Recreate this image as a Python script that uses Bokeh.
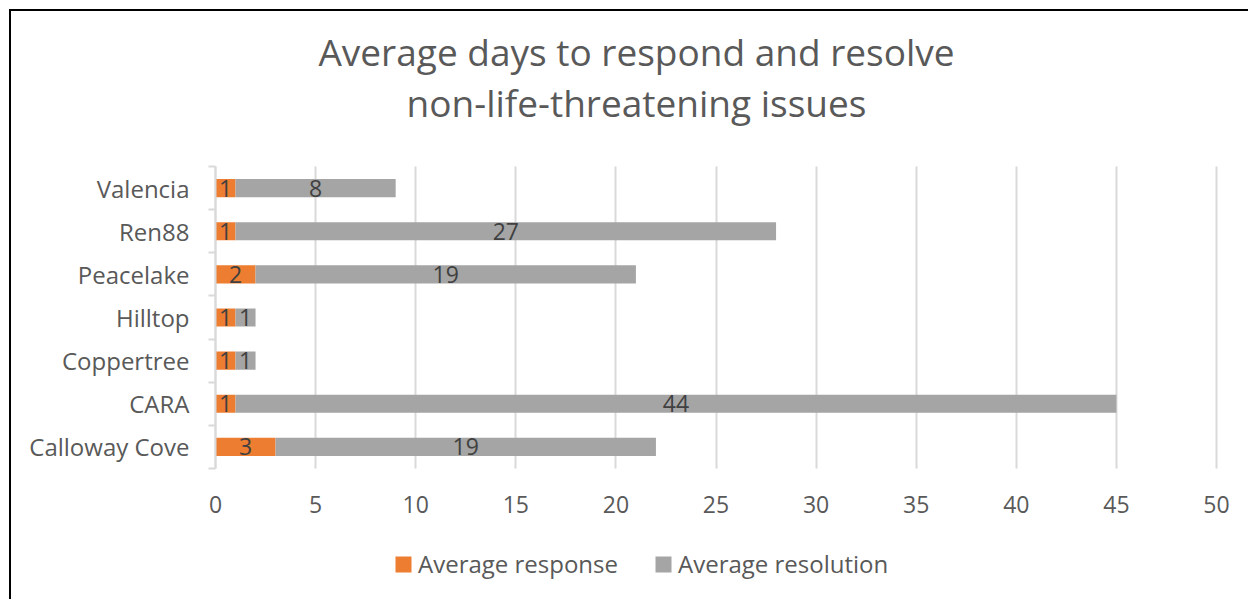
from bokeh.plotting import figure
from bokeh.models import (ColumnDataSource, FixedTicker, Range1d, Legend, LegendItem,
                          LabelSet, Label)
from bokeh.core.properties import value
from bokeh.embed import file_html
from bokeh.resources import INLINE

# ---- data ----
sites = ["Calloway Cove", "CARA", "Coppertree", "Hilltop", "Peacelake", "Ren88", "Valencia"]
avg_response = [3, 1, 1, 1, 2, 1, 1]
avg_resolution = [19, 44, 1, 1, 19, 27, 8]
x_ticks = [0, 5, 10, 15, 20, 25, 30, 35, 40, 45, 50]
series_names = ["Average response", "Average resolution"]
title_lines = ["Average days to respond and resolve", "non-life-threatening issues"]

ORANGE = "#ED7D31"
GREY = "#A5A5A5"
TEXT = "#595959"
FONT = "Open Sans"

n = len(sites)
y_pos = [i + 0.5 for i in range(n)]
totals = [a + b for a, b in zip(avg_response, avg_resolution)]
src = ColumnDataSource(dict(
    y=y_pos,
    resp=avg_response,
    res=avg_resolution,
    total=totals,
    resp_mid=[a / 2 for a in avg_response],
    res_mid=[a + b / 2 for a, b in zip(avg_response, avg_resolution)],
    resp_txt=[str(v) for v in avg_response],
    res_txt=[str(v) for v in avg_resolution],
))

# The frame covers the whole chart so the title, axis labels and legend all
# sit inside it; the bars occupy x in [0, 50] and y in [0, n].
FIG_W, FIG_H = 1239, 590
X_PX = 20.02            # px per day
BAND_PX = 43.14         # px per site band
left_px, right_px = 204, 34     # px left of x = 0 / right of x = 50
top_px, bot_px = 457, 133       # px above / below y = 0
p = figure(width=FIG_W, height=FIG_H, output_backend="svg", toolbar_location=None,
           x_range=Range1d(-left_px / X_PX, 50 + right_px / X_PX),
           y_range=Range1d(-bot_px / BAND_PX, top_px / BAND_PX),
           min_border_left=0, min_border_right=0,
           min_border_top=0, min_border_bottom=0)
p.styles = {"border-left": "2px solid black", "border-top": "2px solid black",
            "margin-left": "9px", "margin-top": "9px"}
p.outline_line_color = None
p.background_fill_color = "white"
p.border_fill_color = "white"

r_resp = p.hbar(y="y", left=0, right="resp", height=0.42, source=src,
                fill_color=ORANGE, line_color=None)
r_res = p.hbar(y="y", left="resp", right="total", height=0.42, source=src,
               fill_color=GREY, line_color=None)

# value labels inside each segment
for xcol, tcol in (("resp_mid", "resp_txt"), ("res_mid", "res_txt")):
    p.add_layout(LabelSet(x=xcol, y="y", text=tcol, source=src,
                          text_align="center", text_baseline="middle",
                          text_font=value(FONT), text_font_size="23px",
                          text_color="#404040"))

# x axis: labels only, pinned under the bars; vertical gridlines over the bars
p.xaxis.fixed_location = 0
p.xaxis.ticker = FixedTicker(ticks=x_ticks)
p.xaxis.axis_line_color = None
p.xaxis.major_tick_line_color = None
p.xaxis.minor_tick_line_color = None
p.xaxis.major_tick_out = 0
p.xaxis.major_label_text_font = FONT
p.xaxis.major_label_text_font_size = "23px"
p.xaxis.major_label_text_color = TEXT
p.xaxis.major_label_standoff = 27
p.xgrid.ticker = FixedTicker(ticks=x_ticks)
p.xgrid.cross_bounds = (0, n)
p.xgrid.grid_line_color = "#D9D9D9"
p.xgrid.grid_line_width = 2
p.ygrid.grid_line_color = None

# y axis: names at band centres, small ticks at band edges
p.yaxis.fixed_location = 0
p.yaxis.bounds = (0, n)
p.yaxis.ticker = FixedTicker(ticks=y_pos, minor_ticks=list(range(n + 1)))
p.yaxis.major_label_overrides = {y: s for y, s in zip(y_pos, sites)}
p.yaxis.major_tick_line_color = None
p.yaxis.major_tick_out = 0
p.yaxis.major_tick_in = 0
p.yaxis.minor_tick_line_color = "#D9D9D9"
p.yaxis.minor_tick_line_width = 2
p.yaxis.minor_tick_out = 7
p.yaxis.minor_tick_in = 0
p.yaxis.axis_line_color = "#D9D9D9"
p.yaxis.axis_line_width = 2
p.yaxis.major_label_text_font = FONT
p.yaxis.major_label_text_font_size = "24px"
p.yaxis.major_label_text_color = TEXT
p.yaxis.major_label_standoff = 19

# two-line title (screen px from the frame's bottom-left corner)
for txt, yy in zip(title_lines, (550, 499)):
    p.add_layout(Label(x=625, y=yy, x_units="screen", y_units="screen", text=txt,
                       text_align="center", text_baseline="middle",
                       text_font=FONT, text_font_size="37px", text_color=TEXT))

legend = Legend(items=[LegendItem(label=series_names[0], renderers=[r_resp]),
                       LegendItem(label=series_names[1], renderers=[r_res])],
                orientation="horizontal", location=(382, 21),
                glyph_width=20, glyph_height=20, label_standoff=5, spacing=35,
                label_height=24, padding=0, margin=0, border_line_color=None,
                background_fill_alpha=0,
                label_text_font=FONT, label_text_font_size="24px",
                label_text_color=TEXT)
p.add_layout(legend, "center")

open("out.html", "w").write(file_html(p, INLINE))
